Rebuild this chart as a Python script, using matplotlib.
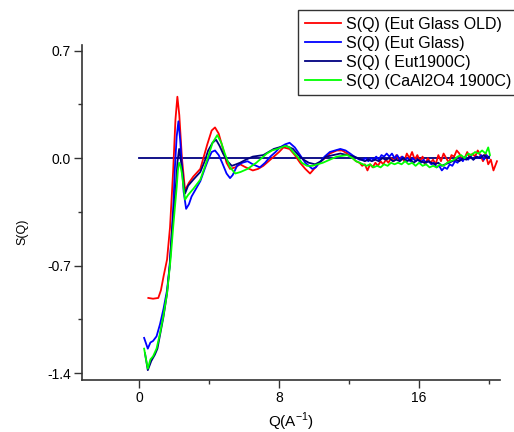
import matplotlib
matplotlib.use('Agg')
import matplotlib.pyplot as plt
from matplotlib.ticker import MultipleLocator

plt.rcParams['font.family'] = ['Liberation Sans', 'DejaVu Sans']

# S(Q) (Eut Glass OLD)
q_old = [0.53, 0.8, 1.1, 1.25, 1.4, 1.6, 1.77, 1.95, 2.08, 2.19, 2.3, 2.45, 2.63, 2.85, 3.1, 3.5,
         3.9, 4.15, 4.34, 4.55, 4.75, 5.0, 5.2, 5.5, 5.77, 6.1, 6.5, 6.8, 7.1, 7.4, 7.7, 8.0,
         8.25, 8.6, 8.9, 9.2, 9.5, 9.77, 10.0, 10.3, 10.6, 10.9, 11.3, 11.6, 11.9, 12.2, 12.4,
         12.6, 12.75, 12.9, 13.05, 13.2, 13.35, 13.5, 13.65, 13.8, 13.95, 14.1, 14.25, 14.4,
         14.55, 14.7, 14.85, 15.0, 15.15, 15.3, 15.45, 15.6, 15.75, 15.9, 16.05, 16.2, 16.35,
         16.5, 16.65, 16.8, 16.95, 17.1, 17.25, 17.4, 17.55, 17.7, 17.85, 18.0, 18.15, 18.3,
         18.45, 18.6, 18.75, 18.9, 19.05, 19.2, 19.35, 19.5, 19.65, 19.8, 19.95, 20.1, 20.25,
         20.35, 20.45]
s_old = [-0.91, -0.915, -0.91, -0.86, -0.77, -0.66, -0.45, -0.08, 0.25, 0.40, 0.28, 0.0, -0.21,
         -0.16, -0.12, -0.07, 0.09, 0.18, 0.20, 0.16, 0.08, -0.03, -0.07, -0.06, -0.04, -0.06,
         -0.08, -0.07, -0.05, -0.02, 0.01, 0.04, 0.07, 0.06, 0.02, -0.03, -0.07, -0.10, -0.07,
         -0.03, 0.0, 0.03, 0.05, 0.05, 0.03, 0.0, -0.02,
         -0.03, -0.05, -0.04, -0.08, -0.04, -0.06, -0.03, -0.05, -0.02, -0.04, -0.01, -0.03,
         0.0, -0.02, 0.02, -0.01, 0.01, -0.02, 0.03, 0.0, 0.04, -0.01, 0.02, -0.02, 0.01, -0.04,
         0.0, -0.03, -0.01, -0.04, 0.02, -0.02, 0.03, 0.0, -0.03, 0.02, 0.01, 0.05, 0.03, -0.01,
         0.0, 0.04, 0.0, 0.03, 0.01, 0.05, 0.02, -0.02, 0.03, -0.04, -0.01, -0.08, -0.05, -0.02]

# S(Q) (Eut Glass)
q_glass = [0.29, 0.5, 0.65, 0.8, 1.0, 1.2, 1.4, 1.6, 1.75, 1.87, 1.97, 2.05, 2.15, 2.25, 2.35,
           2.45, 2.55, 2.69, 2.85, 3.0, 3.25, 3.5, 3.75, 3.95, 4.15, 4.34, 4.55, 4.75, 5.0,
           5.2, 5.35, 5.6, 5.9, 6.2, 6.5, 6.9, 7.2, 7.5, 7.8, 8.05, 8.35, 8.6, 8.9, 9.2, 9.5,
           9.9, 10.1, 10.3, 10.6, 10.9, 11.2, 11.5, 11.8, 12.06, 12.3, 12.6,
           12.8, 12.95, 13.1, 13.25, 13.4, 13.55, 13.7, 13.85, 14.0, 14.15, 14.3, 14.45, 14.6,
           14.75, 14.9, 15.05, 15.2, 15.35, 15.5, 15.65, 15.8, 15.95, 16.1, 16.25, 16.4, 16.55,
           16.7, 16.85, 17.0, 17.15, 17.3, 17.45, 17.6, 17.75, 17.9, 18.05, 18.2, 18.35, 18.5,
           18.65, 18.8, 18.95, 19.1, 19.25, 19.4, 19.55, 19.7, 19.85, 20.0]
s_glass = [-1.17, -1.24, -1.20, -1.19, -1.16, -1.08, -0.98, -0.86, -0.70, -0.49, -0.28, -0.06,
           0.14, 0.24, 0.12, -0.05, -0.22, -0.33, -0.30, -0.25, -0.20, -0.15, -0.07, -0.01,
           0.04, 0.05, 0.02, -0.03, -0.10, -0.13, -0.11, -0.05, -0.03, -0.02, -0.04, -0.06,
           -0.03, 0.01, 0.04, 0.07, 0.09, 0.10, 0.07, 0.02, -0.03, -0.07, -0.06, -0.03, 0.01,
           0.04, 0.05, 0.06, 0.05, 0.03, 0.01, -0.01,
           -0.01, 0.0, -0.02, 0.0, -0.01, 0.01, -0.01, 0.02, 0.01, 0.03, 0.01, 0.03, 0.0, 0.02,
           -0.01, 0.01, -0.01, 0.0, -0.02, 0.0, -0.02, -0.01, -0.03, -0.01, -0.03, -0.02, -0.04,
           -0.03, -0.06, -0.05, -0.08, -0.06, -0.07, -0.04, -0.05, -0.02, -0.03, 0.0, -0.02,
           0.01, -0.01, 0.01, -0.01, 0.01, 0.0, 0.02, -0.01, 0.02, 0.0]

# S(Q) ( Eut1900C)
q_eut = [0.34, 0.5, 0.7, 0.9, 1.05, 1.2, 1.4, 1.6, 1.75, 1.87, 2.0, 2.1, 2.2, 2.29, 2.37, 2.45,
         2.55, 2.63, 2.8, 3.1, 3.5, 3.75, 3.95, 4.2, 4.4, 4.6, 4.8, 5.05, 5.3, 5.55, 5.77, 6.1,
         6.5, 7.1, 7.4, 7.7, 8.0, 8.4, 8.8, 9.1, 9.4, 9.7, 10.06, 10.4, 10.7, 11.1, 11.5, 11.9,
         12.3, 12.7,
         12.9, 13.1, 13.3, 13.5, 13.7, 13.9, 14.1, 14.3, 14.5, 14.7, 14.9, 15.1, 15.3, 15.5,
         15.7, 15.9, 16.1, 16.3, 16.5, 16.7, 16.9, 17.1, 17.3, 17.5, 17.7, 17.9, 18.1, 18.3,
         18.5, 18.7, 18.9, 19.1, 19.3, 19.5, 19.7, 19.9, 20.0]
s_eut = [-1.27, -1.38, -1.32, -1.28, -1.24, -1.15, -1.03, -0.88, -0.70, -0.49, -0.32, -0.19,
         -0.02, 0.06, 0.0, -0.06, -0.17, -0.23, -0.18, -0.14, -0.09, -0.02, 0.05, 0.10, 0.12,
         0.08, 0.03, -0.02, -0.05, -0.04, -0.03, -0.01, 0.01, 0.02, 0.04, 0.06, 0.07, 0.08,
         0.06, 0.02, -0.01, -0.03, -0.04, -0.02, 0.01, 0.02, 0.03, 0.02, 0.01, -0.01,
         -0.02, -0.01, -0.02, -0.01, -0.02, 0.0, -0.01, 0.0, -0.02, -0.01, -0.02, 0.0, -0.02,
         -0.01, -0.03, -0.01, -0.02, -0.03, -0.02, -0.03, -0.04, -0.03, -0.05, -0.04, -0.03,
         -0.02, -0.01, -0.02, 0.0, -0.01, 0.01, -0.01, 0.01, 0.0, 0.02, 0.0, 0.01]

# S(Q) (CaAl2O4 1900C)
q_ca = [0.29, 0.4, 0.5, 0.65, 0.8, 1.0, 1.2, 1.4, 1.6, 1.8, 1.95, 2.05, 2.15, 2.22, 2.29, 2.37,
        2.45, 2.55, 2.63, 2.8, 3.1, 3.5, 3.75, 3.95, 4.2, 4.47, 4.7, 4.9, 5.2, 5.5, 5.8, 6.2,
        6.7, 7.0, 7.3, 7.6, 7.9, 8.35, 8.6, 8.8, 9.05, 9.3, 9.6, 9.9, 10.5, 10.9, 11.3, 11.9,
        12.2, 12.4,
        12.6, 12.8, 13.0, 13.2, 13.4, 13.6, 13.8, 14.0, 14.2, 14.4, 14.6, 14.8, 15.0, 15.2,
        15.4, 15.6, 15.8, 16.0, 16.2, 16.4, 16.6, 16.8, 17.0, 17.2, 17.4, 17.6, 17.8, 18.0,
        18.2, 18.4, 18.6, 18.8, 19.0, 19.2, 19.4, 19.6, 19.8, 19.95, 20.05]
s_ca = [-1.24, -1.31, -1.37, -1.31, -1.29, -1.24, -1.14, -1.02, -0.88, -0.66, -0.45, -0.32,
        -0.19, -0.08, -0.03, -0.05, -0.10, -0.20, -0.27, -0.24, -0.20, -0.14, -0.06, 0.01,
        0.10, 0.15, 0.10, 0.03, -0.06, -0.10, -0.09, -0.07, -0.03, 0.0, 0.03, 0.05, 0.06,
        0.08, 0.07, 0.04, 0.01, -0.03, -0.05, -0.05, -0.03, -0.01, 0.01, 0.02, 0.0, -0.02,
        -0.03, -0.04, -0.05, -0.04, -0.06, -0.05, -0.06, -0.04, -0.05, -0.03, -0.04, -0.03,
        -0.04, -0.02, -0.04, -0.03, -0.05, -0.03, -0.05, -0.04, -0.06, -0.05, -0.06, -0.04,
        -0.05, -0.03, -0.02, -0.01, 0.01, 0.02, 0.0, 0.03, 0.02, 0.04, 0.03, 0.05, 0.03, 0.07,
        0.02]

zero_q = [0, 20]
zero_s = [0, 0]

fig = plt.figure(figsize=(5.14, 4.32), dpi=100)
ax = fig.add_axes([0.1595, 0.1204, 0.8135, 0.7756])

ax.plot(zero_q, zero_s, color='#000080', lw=1.3)
ax.plot(q_old, s_old, color='#ff0000', lw=1.3, label='S(Q) (Eut Glass OLD)')
ax.plot(q_glass, s_glass, color='#0000ff', lw=1.3, label='S(Q) (Eut Glass)')
ax.plot(q_eut, s_eut, color='#000080', lw=1.3, label='S(Q) ( Eut1900C)')
ax.plot(q_ca, s_ca, color='#00ff00', lw=1.3, label='S(Q) (CaAl2O4 1900C)')

ax.set_xlim(-3.26, 20.63)
ax.set_ylim(-1.444, 0.737)
ax.xaxis.set_major_locator(MultipleLocator(8))
ax.xaxis.set_minor_locator(MultipleLocator(4))
ax.yaxis.set_major_locator(MultipleLocator(0.7))
ax.yaxis.set_minor_locator(MultipleLocator(0.35))
ax.yaxis.set_major_formatter(plt.FuncFormatter(lambda v, p: '%.1f' % v))

for side in ['top', 'right']:
    ax.spines[side].set_visible(False)
for side in ['left', 'bottom']:
    ax.spines[side].set_linewidth(1.2)
    ax.spines[side].set_color('#333333')
ax.tick_params(which='major', length=6, width=1, labelsize=10, color='#333333', pad=2)
ax.tick_params(which='minor', length=3, width=1, color='#333333')

fig.text(0.043, 1 - 232 / 432, 'S(Q)', rotation=90, fontsize=9, ha='center', va='center')
fig.text(0.566, 1 - 422 / 432, r'Q(A$^{\mathregular{-1}}$)', fontsize=11, ha='center', va='center')

leg = fig.legend(loc='upper right', bbox_to_anchor=(1.008, 0.976), fontsize=11.5,
                 frameon=True, fancybox=False, handlelength=2.3, handletextpad=0.3,
                 labelspacing=0.24, borderpad=0.42, borderaxespad=0)
leg.get_frame().set_edgecolor('black')
leg.get_frame().set_linewidth(1.0)

plt.savefig('out.png', dpi=100)
